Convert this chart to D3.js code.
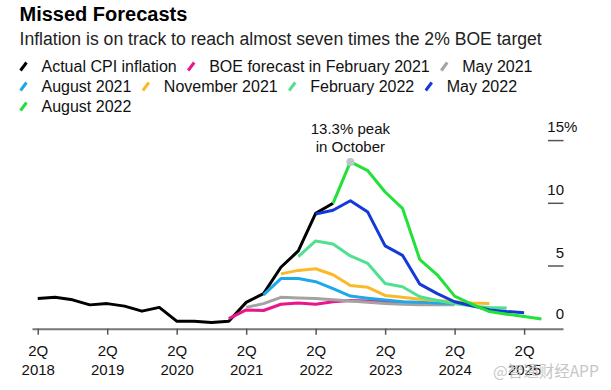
<!DOCTYPE html>
<html><head><meta charset="utf-8">
<script src="https://cdn.jsdelivr.net/npm/d3@7"></script>
<style>
body{margin:0;background:#fff}
svg{display:block;font-family:"Liberation Sans",Arial,Helvetica,sans-serif}
</style>
</head><body>
<svg id="chart" width="611" height="390"></svg>
<script>
// ---------- data ----------
const titleText = "Missed Forecasts";
const subtitleText = "Inflation is on track to reach almost seven times the 2% BOE target";
const annotationLines = ["13.3% peak", "in October"];
const watermarkText = "@智通财经APP";

// quarter index 0 = 2Q 2018
const xTickIndex = [0, 4, 8, 12, 16, 20, 24, 28];
const xTickTop = ["2Q", "2Q", "2Q", "2Q", "2Q", "2Q", "2Q", "2Q"];
const xTickYears = ["2018", "2019", "2020", "2021", "2022", "2023", "2024", "2025"];
const yTickValues = [0, 5, 10, 15];
const yTickLabels = ["0", "5", "10", "15"];

const seriesNames = ["Actual CPI inflation", "BOE forecast in February 2021", "May 2021",
  "August 2021", "November 2021", "February 2022", "May 2022", "August 2022"];
const seriesColors = ["#000000", "#ea178c", "#a3a3a3", "#1da8ea", "#fbb92a", "#4fe190", "#1538d8", "#22e23a"];
const seriesStart = [0, 11, 12, 13, 14, 15, 16, 17];

const actualCPI = [2.4, 2.5, 2.3, 1.9, 2.0, 1.8, 1.4, 1.7, 0.6, 0.6, 0.5, 0.6, 2.1, 2.8, 4.9, 6.2, 9.2, 10.0];
const feb2021 = [0.8, 1.5, 1.45, 1.95, 2.05, 1.95, 2.15, 2.25, 2.2, 2.15, 2.1, 2.05, 2.0];
const may2021 = [1.7, 2.0, 2.5, 2.45, 2.4, 2.3, 2.2, 2.1, 2.0, 1.95, 1.9, 1.9, 1.9];
const aug2021 = [2.7, 4.0, 4.0, 3.75, 3.2, 2.6, 2.43, 2.28, 2.15, 2.1, 2.05, 2.0, 1.95];
const nov2021 = [4.37, 4.65, 4.78, 4.3, 3.45, 3.3, 2.65, 2.5, 2.35, 2.25, 2.15, 2.05, 2.0];
const feb2022 = [5.75, 7.0, 6.75, 5.8, 5.2, 3.6, 3.35, 2.55, 2.25, 2.0, 1.8, 1.7, 1.65];
const may2022 = [9.15, 9.45, 10.2, 9.3, 6.6, 5.85, 3.55, 2.8, 2.15, 1.83, 1.5, 1.37, 1.28];
const aug2022 = [10.0, 13.3, 12.6, 10.9, 9.6, 5.5, 4.3, 2.6, 1.95, 1.37, 1.16, 0.98, 0.77];
const seriesValues = [actualCPI, feb2021, may2021, aug2021, nov2021, feb2022, may2022, aug2022];

const peakSeries = 7, peakIndex = 18, peakValue = 13.3;
const legendRows = [[0, 1, 2], [3, 4, 5, 6], [7]];

// ---------- drawing ----------
const svg = d3.select("#chart");
const x = d3.scaleLinear().domain([-0.33, 30.24]).range([32, 563]);
const y = d3.scaleLinear().domain([0, 15]).range([328.7, 140.6]);

// title / subtitle
svg.append("text").attr("x", 19.5).attr("y", 20.5).attr("font-size", 20).attr("font-weight", "bold")
  .attr("fill", "#000").text(titleText);
svg.append("text").attr("x", 19.5).attr("y", 45).attr("font-size", 17.6)
  .attr("fill", "#222").text(subtitleText);

// legend (flow layout)
const legend = svg.append("g");
legendRows.forEach((row, r) => {
  const cy = 66.5 + r * 20;
  let cx = 20.5;
  row.forEach(i => {
    legend.append("line").attr("x1", cx).attr("y1", cy + 4).attr("x2", cx + 6).attr("y2", cy - 4)
      .attr("stroke", seriesColors[i]).attr("stroke-width", 3);
    const t = legend.append("text").attr("x", cx + 21).attr("y", cy + 5.5).attr("font-size", 16)
      .attr("fill", "#111").text(seriesNames[i]);
    cx = cx + 21 + t.node().getComputedTextLength() + 11.5;
  });
});

// x axis
const xAxis = d3.axisBottom(x).tickValues(xTickIndex).tickSize(6).tickSizeOuter(0).tickFormat(() => "");
const gx = svg.append("g").attr("transform", "translate(0,328.7)").call(xAxis);
gx.select(".domain").attr("stroke", "#777").attr("stroke-width", 2);
gx.selectAll(".tick line").attr("stroke", "#555").attr("stroke-width", 1.5);
gx.selectAll(".tick").each(function (d, k) {
  const t = d3.select(this).append("text").attr("fill", "#111").attr("font-size", 15)
    .attr("text-anchor", "middle");
  t.append("tspan").attr("x", 0).attr("y", 27).text(xTickTop[k]);
  t.append("tspan").attr("x", 0).attr("y", 46.3).text(xTickYears[k]);
});

// y axis (right, labels above short tick lines)
const gy = svg.append("g");
yTickValues.forEach((v, k) => {
  if (v !== 0) {
    gy.append("line").attr("x1", 548).attr("x2", 563.5).attr("y1", y(v)).attr("y2", y(v))
      .attr("stroke", "#555").attr("stroke-width", 1.5);
  }
  gy.append("text").attr("x", 564).attr("y", y(v) - (v === 0 ? 10 : 8.5)).attr("text-anchor", "end")
    .attr("font-size", 15).attr("fill", "#111").text(yTickLabels[k]);
  if (k === yTickValues.length - 1) {
    gy.append("text").attr("x", 564).attr("y", y(v) - 8.5).attr("font-size", 15).attr("fill", "#111").text("%");
  }
});

// lines
const line = d3.line().x(d => x(d.i)).y(d => y(d.v)).curve(d3.curveLinear);
seriesValues.forEach((vals, s) => {
  const pts = vals.map((v, j) => ({ i: seriesStart[s] + j, v: v }));
  svg.append("path").datum(pts).attr("d", line).attr("fill", "none")
    .attr("stroke", seriesColors[s]).attr("stroke-width", 3)
    .attr("stroke-linejoin", "round").attr("stroke-linecap", "butt");
});

// peak marker + annotation
svg.append("circle").attr("cx", x(peakIndex)).attr("cy", y(peakValue)).attr("r", 4).attr("fill", "#bcc6c6");
const ann = svg.append("text").attr("text-anchor", "middle").attr("font-size", 15).attr("fill", "#111");
annotationLines.forEach((l, k) => {
  ann.append("tspan").attr("x", x(peakIndex)).attr("y", 134 + k * 18).text(l);
});

// watermark
svg.append("text").attr("x", 493).attr("y", 376.5).attr("font-size", 15.5)
  .attr("font-family", "'Noto Sans CJK SC', sans-serif").attr("fill", "#bdbdbd").attr("opacity", 0.85)
  .text(watermarkText);
</script>
</body></html>
